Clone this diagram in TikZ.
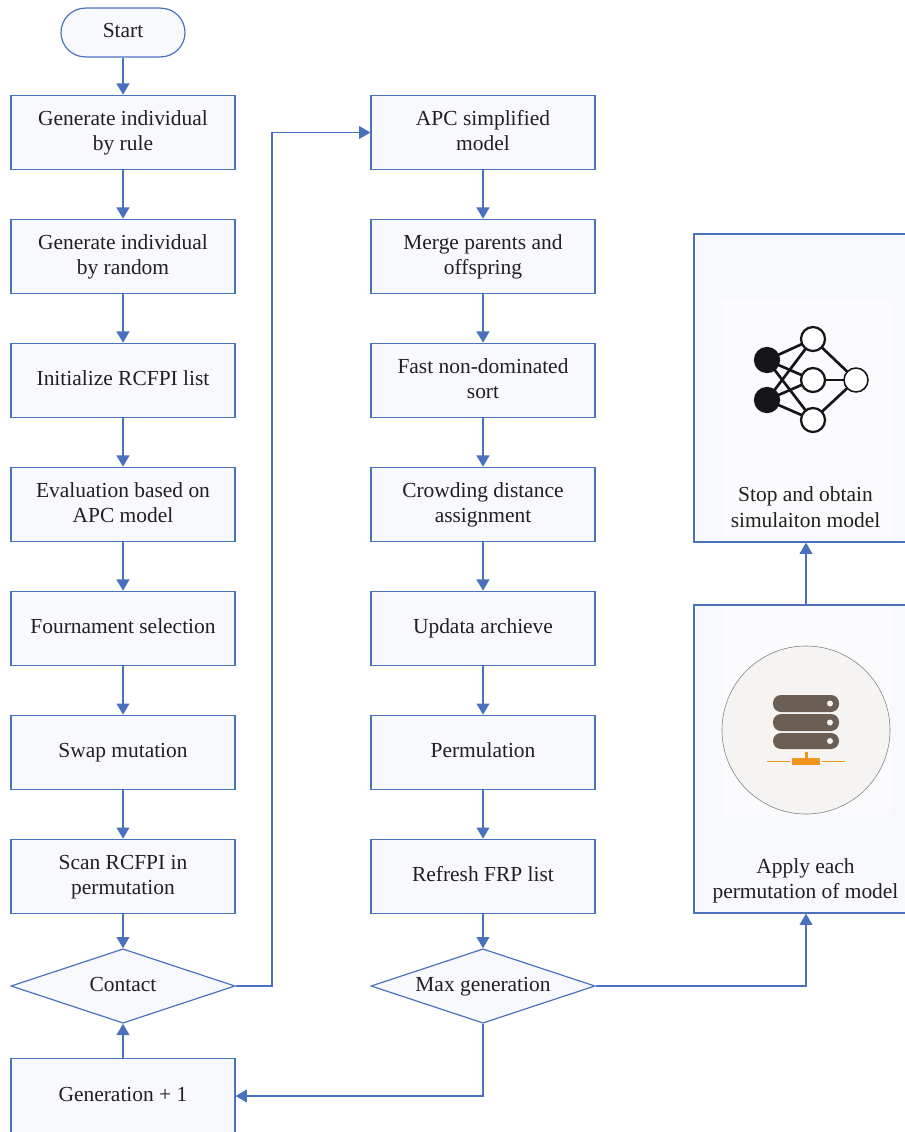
\documentclass[tikz,border=0pt]{standalone}
\usepackage{xcolor}
\usepackage{fontspec}
\setmainfont{Liberation Serif}
\usepackage{tikz}
\usetikzlibrary{arrows.meta, shapes.geometric}
\definecolor{flow_blue}{HTML}{4A72BC}
\definecolor{flow_fill}{HTML}{F7F9FD}
\definecolor{panel_fill}{HTML}{FBFBFD}
\definecolor{flow_text}{HTML}{231F20}
\definecolor{server_brown}{HTML}{6B5F55}
\definecolor{server_orange}{HTML}{F0951E}
\definecolor{disc_fill}{HTML}{F5F4F3}
\definecolor{net_black}{HTML}{16161A}
\newcommand{\flowstrut}{\rule[-5pt]{0pt}{17.5pt}}
\tikzset{
  flowfont/.style = {text=flow_text, align=center, font=\fontsize{15.25}{18}\selectfont,
    execute at begin node=\flowstrut, execute at end node=\flowstrut},
  base/.style = {flowfont, draw=flow_blue, fill=flow_fill, line width=0.85pt, inner sep=0pt},
  stepbox/.style = {base, rectangle, minimum width=5.6cm, minimum height=1.86cm},
  twoline/.style = {stepbox, execute at begin node=\rule{0pt}{31pt}},
  startbox/.style = {base, rectangle, rounded corners=0.61cm, minimum width=3.1cm, minimum height=1.22cm},
  decision/.style = {base, diamond, aspect=3, minimum width=5.6cm, minimum height=1.86cm},
  bigbox/.style = {base, rectangle, minimum width=5.6cm, minimum height=7.7cm},
  flow/.style = {-{Triangle[length=2.8mm, width=3.2mm]}, flow_blue, line width=1.1pt},
  thinflow/.style = {flow, line width=0.8pt},
  netline/.style = {net_black, line width=1.9pt},
  netnode/.style = {circle, draw=net_black, line width=1.6pt, fill=white, minimum size=0.6cm, inner sep=0pt},
  netinput/.style = {netnode, fill=net_black},
  rack/.style = {fill=server_brown, rounded corners=0.2cm},
  rackdot/.style = {fill=disc_fill},
}
\begin{document}
\begin{tikzpicture}[x=0.025cm, y=-0.025cm]
      \useasboundingbox (0,0) rectangle (905,1132);

      % left column
      \node[startbox] (start) at (123,32.5) {Start};
      \node[twoline] (rule) at (123,132.5) {Generate individual\\by rule};
      \node[twoline] (random) at (123,256.5) {Generate individual\\by random};
      \node[stepbox] (init) at (123,380.5) {Initialize RCFPI list};
      \node[twoline] (eval) at (123,504.5) {Evaluation based on\\APC model};
      \node[stepbox] (tourn) at (123,628.5) {Fournament selection};
      \node[stepbox] (swap) at (123,752.5) {Swap mutation};
      \node[twoline] (scan) at (123,876.5) {Scan RCFPI in\\permutation};
      \node[decision] (contact) at (123,986) {Contact};
      \node[stepbox] (gen) at (123,1096) {Generation + 1};

      % middle column
      \node[twoline] (apc) at (483,132.5) {APC simplified\\model};
      \node[twoline] (merge) at (483,256.5) {Merge parents and\\offspring};
      \node[twoline] (sort) at (483,380.5) {Fast non-dominated\\sort};
      \node[twoline] (crowd) at (483,504.5) {Crowding distance\\assignment};
      \node[stepbox] (archive) at (483,628.5) {Updata archieve};
      \node[stepbox] (perm) at (483,752.5) {Permulation};
      \node[stepbox] (refresh) at (483,876.5) {Refresh FRP list};
      \node[decision] (maxgen) at (483,986) {Max generation};

      % right column
      \node[bigbox] (stop) at (806,388) {};
      \node[bigbox] (apply) at (806,759) {};

      \fill[panel_fill] (722,300) rectangle (890,538);
      \fill[panel_fill] (722,606) rectangle (890,815);
      \node[flowfont] (stoptext) at (805.5,510.5) {Stop and obtain\\simulaiton model};
      \node[flowfont] (applytext) at (805.5,882) {Apply each\\permutation of model};

      % network icon
      \coordinate (in1) at (767,360);
      \coordinate (in2) at (767,400);
      \coordinate (mid1) at (813,339);
      \coordinate (mid2) at (813,380);
      \coordinate (mid3) at (813,420);
      \coordinate (out) at (856,380);
      \draw[netline] (in1) -- (mid1);
      \draw[netline] (in1) -- (mid2);
      \draw[netline] (in1) -- (mid3);
      \draw[netline] (in2) -- (mid1);
      \draw[netline] (in2) -- (mid2);
      \draw[netline] (in2) -- (mid3);
      \draw[netline] (mid1) -- (out);
      \draw[netline] (mid2) -- (out);
      \draw[netline] (mid3) -- (out);
      \node[netinput] at (in1) {};
      \node[netinput] at (in2) {};
      \node[netnode] at (mid1) {};
      \node[netnode] at (mid2) {};
      \node[netnode] at (mid3) {};
      \node[netnode, line width=1.1pt] at (out) {};

      % server icon
      \draw[gray, line width=0.4pt, fill=disc_fill] (806,730) circle (2.1cm);
      \fill[rack] (773,695) rectangle (839,712);
      \fill[rack] (773,714) rectangle (839,731);
      \fill[rack] (773,733) rectangle (839,749);
      \fill[rackdot] (830,703.5) circle (0.075cm);
      \fill[rackdot] (830,722.5) circle (0.075cm);
      \fill[rackdot] (830,741) circle (0.075cm);
      \fill[server_orange] (804.5,752) rectangle (807.5,759);
      \fill[server_orange] (792,758) rectangle (820,765);
      \draw[server_orange, line width=1.1pt] (767,761.5) -- (790,761.5);
      \draw[server_orange, line width=1.1pt] (822,761.5) -- (845,761.5);

      % connectors
      \draw[flow] (start) -- (rule);
      \draw[flow] (rule) -- (random);
      \draw[flow] (random) -- (init);
      \draw[flow] (init) -- (eval);
      \draw[flow] (eval) -- (tourn);
      \draw[flow] (tourn) -- (swap);
      \draw[flow] (swap) -- (scan);
      \draw[flow] (scan) -- (contact);
      \draw[flow] (gen) -- (contact);

      \draw[flow] (apc) -- (merge);
      \draw[flow] (merge) -- (sort);
      \draw[flow] (sort) -- (crowd);
      \draw[flow] (crowd) -- (archive);
      \draw[flow] (archive) -- (perm);
      \draw[flow] (perm) -- (refresh);
      \draw[flow] (refresh) -- (maxgen);

      \coordinate (turn) at (272,560);
      \draw[thinflow] (contact.east) -| (turn) |- (apc.west);
      \draw[thinflow] (maxgen.south) |- (gen.east);
      \draw[thinflow] (maxgen.east) -| (apply.south);
      \draw[thinflow] (apply.north) -- (stop.south);
    \end{tikzpicture}
\end{document}
